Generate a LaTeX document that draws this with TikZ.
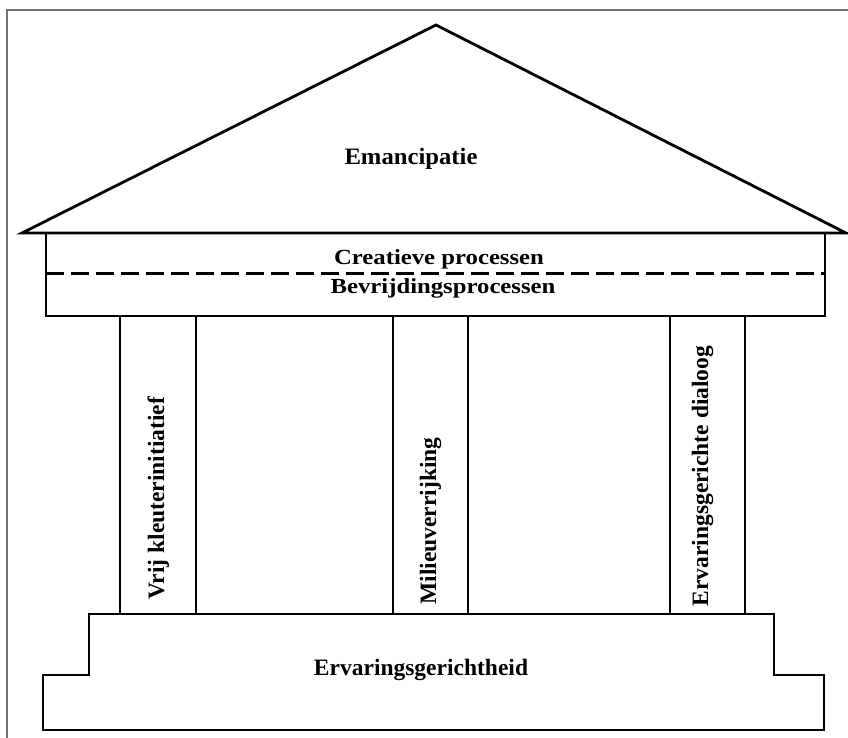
\documentclass[tikz,border=0pt]{standalone}
\usepackage{fontspec}
\setmainfont{Liberation Serif}
\begin{document}
\begin{tikzpicture}[x=1pt,y=-1pt,
  struct/.style={draw=black,line width=2.2pt,line join=miter},
  lbl/.style={font=\bfseries\fontsize{23.5}{26}\selectfont,inner sep=0pt,anchor=base},
  elbl/.style={font=\bfseries\fontsize{21.5}{24}\selectfont,inner sep=0pt,anchor=base,xscale=1.15},
  vlbl/.style={lbl,rotate=90}]
\useasboundingbox (0,0) rectangle (848,738);
% frame
\draw[line width=2pt,draw=black!55] (7,738) -- (7,10) -- (848,10);
% roof
\draw[struct,line width=2.8pt] (22,233) -- (436,25) -- (846,233) -- cycle;
% entablature
\draw[struct] (46,233) rectangle (825,316);
\draw[line width=3pt,dash pattern=on 18pt off 7pt] (46,273.5) -- (825,273.5);
% columns
\draw[struct] (120,316) rectangle (196,614);
\draw[struct] (393,316) rectangle (468,614);
\draw[struct] (670,316) rectangle (745,614);
% base
\draw[struct,line width=2.6pt] (43,730) -- (43,675) -- (89,675) -- (89,614) -- (774,614) -- (774,675) -- (824,675) -- (824,730) -- cycle;
% labels
\node[lbl,xscale=1.05] (roof) at (411,165) {Emancipatie};
\node[elbl] (cre) at (439,264) {Creatieve processen};
\node[elbl] (bev) at (443,293.5) {Bevrijdingsprocessen};
\node[vlbl] (c1) at (164,498) {Vrij kleuterinitiatief};
\node[vlbl] (c2) at (436,521) {Milieuverrijking};
\node[vlbl] (c3) at (708,476) {Ervaringsgerichte dialoog};
\node[lbl] (base) at (421,675) {Ervaringsgerichtheid};
\end{tikzpicture}
\end{document}
